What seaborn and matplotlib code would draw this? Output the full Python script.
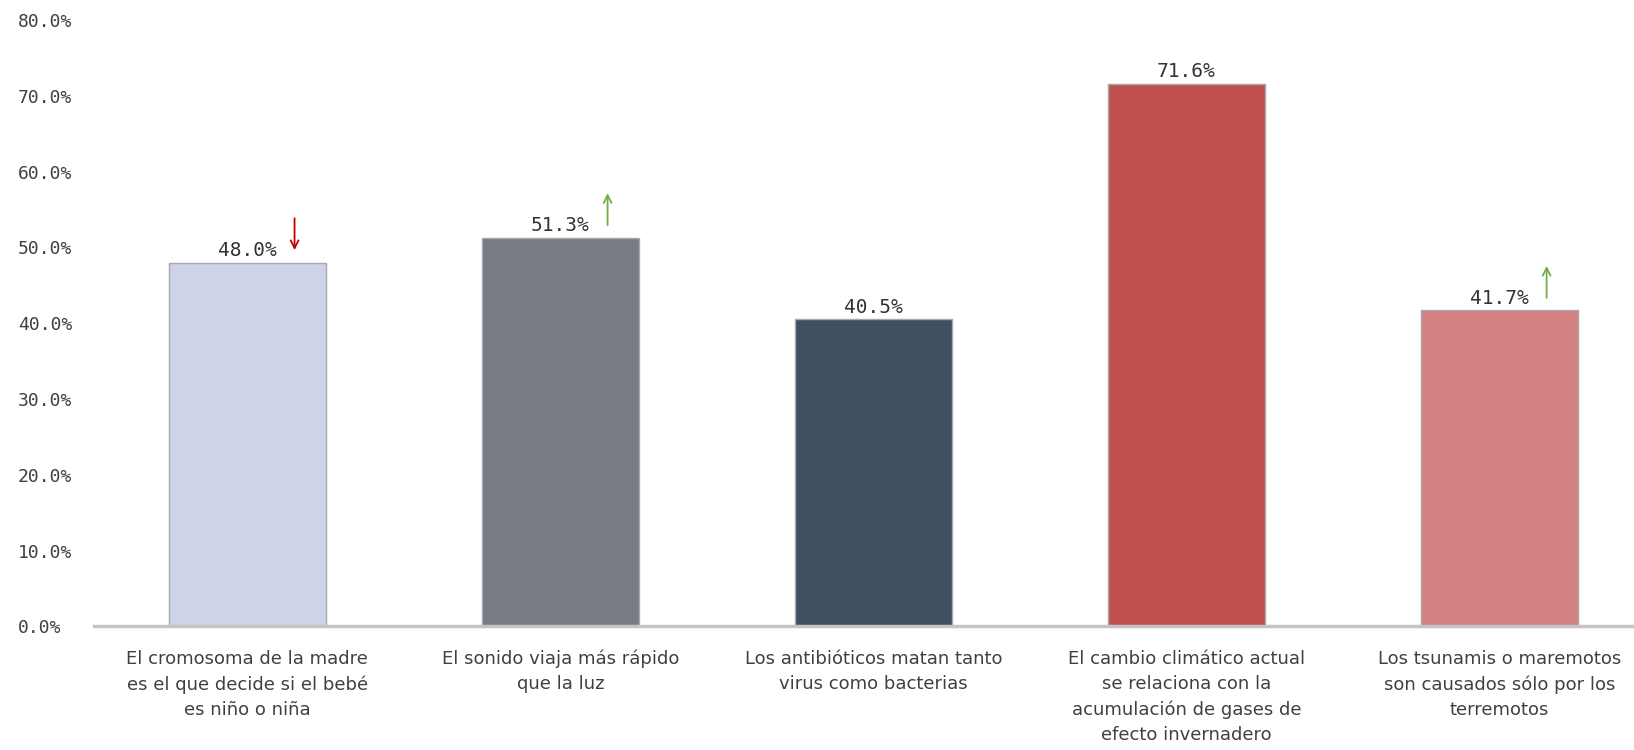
import numpy as np
import pandas as pd
import matplotlib
matplotlib.use("Agg")
import matplotlib.pyplot as plt
from matplotlib.transforms import offset_copy
import seaborn as sns

categories = [
    "El cromosoma de la madre\nes el que decide si el bebé\nes niño o niña",
    "El sonido viaja más rápido\nque la luz",
    "Los antibióticos matan tanto\nvirus como bacterias",
    "El cambio climático actual\nse relaciona con la\nacumulación de gases de\nefecto invernadero",
    "Los tsunamis o maremotos\nson causados sólo por los\nterremotos",
]
values = [48.0, 51.3, 40.5, 71.6, 41.7]
trend = ["down", "up", None, None, "up"]
colors = ["#CDD3E8", "#767B84", "#3F5063", "#C0504D", "#D28080"]
yticks = [0, 10, 20, 30, 40, 50, 60, 70, 80]

df = pd.DataFrame({"cat": categories, "val": values})

sns.set_theme(style="white")
plt.rcParams["font.family"] = ["DejaVu Sans"]

fig = plt.figure(figsize=(16.34, 7.5), dpi=100)
ax = fig.add_axes([0.0575, 0.165, 0.9425, 0.808])

sns.barplot(data=df, x="cat", y="val", hue="cat", palette=colors, legend=False,
            saturation=1, width=0.5, edgecolor="#A8A8A8", linewidth=1, ax=ax)

ax.set_ylim(0, 80)
ax.set_xlim(-0.49, 4.43)
ax.set_yticks(yticks)
ax.set_yticklabels([f"{t:.1f}%" for t in yticks], fontsize=13, color="#404040",
                   family="DejaVu Sans Mono")
ax.tick_params(axis="y", length=0, pad=55)
for lbl in ax.get_yticklabels():
    lbl.set_horizontalalignment("left")

ax.tick_params(axis="x", length=0, pad=17)
for lbl in ax.get_xticklabels():
    lbl.set_fontsize(13)
    lbl.set_color("#404040")
    lbl.set_linespacing(1.5)
ax.set_xlabel("")
ax.set_ylabel("")

for s in ["top", "right", "left"]:
    ax.spines[s].set_visible(False)
ax.spines["bottom"].set_color("#C4C4C4")
ax.spines["bottom"].set_linewidth(2.5)

for i, v in enumerate(values):
    ax.annotate(f"{v:.1f}%", xy=(i, v), xytext=(0, 2), textcoords="offset points",
                ha="center", va="bottom", fontsize=14, color="#333333",
                family="DejaVu Sans Mono")
    if trend[i] is not None:
        tr_lo = offset_copy(ax.transData, fig=fig, x=34, y=9, units="points")
        tr_hi = offset_copy(ax.transData, fig=fig, x=34, y=32, units="points")
        if trend[i] == "up":
            ax.annotate("", xy=(i, v), xycoords=tr_hi, xytext=(i, v), textcoords=tr_lo,
                        arrowprops=dict(arrowstyle="->", color="#70AD47", lw=1.3,
                                        shrinkA=0, shrinkB=0, mutation_scale=14))
        else:
            ax.annotate("", xy=(i, v), xycoords=tr_lo, xytext=(i, v), textcoords=tr_hi,
                        arrowprops=dict(arrowstyle="->", color="#C00000", lw=1.3,
                                        shrinkA=0, shrinkB=0, mutation_scale=14))

fig.savefig("out.png", dpi=100)
